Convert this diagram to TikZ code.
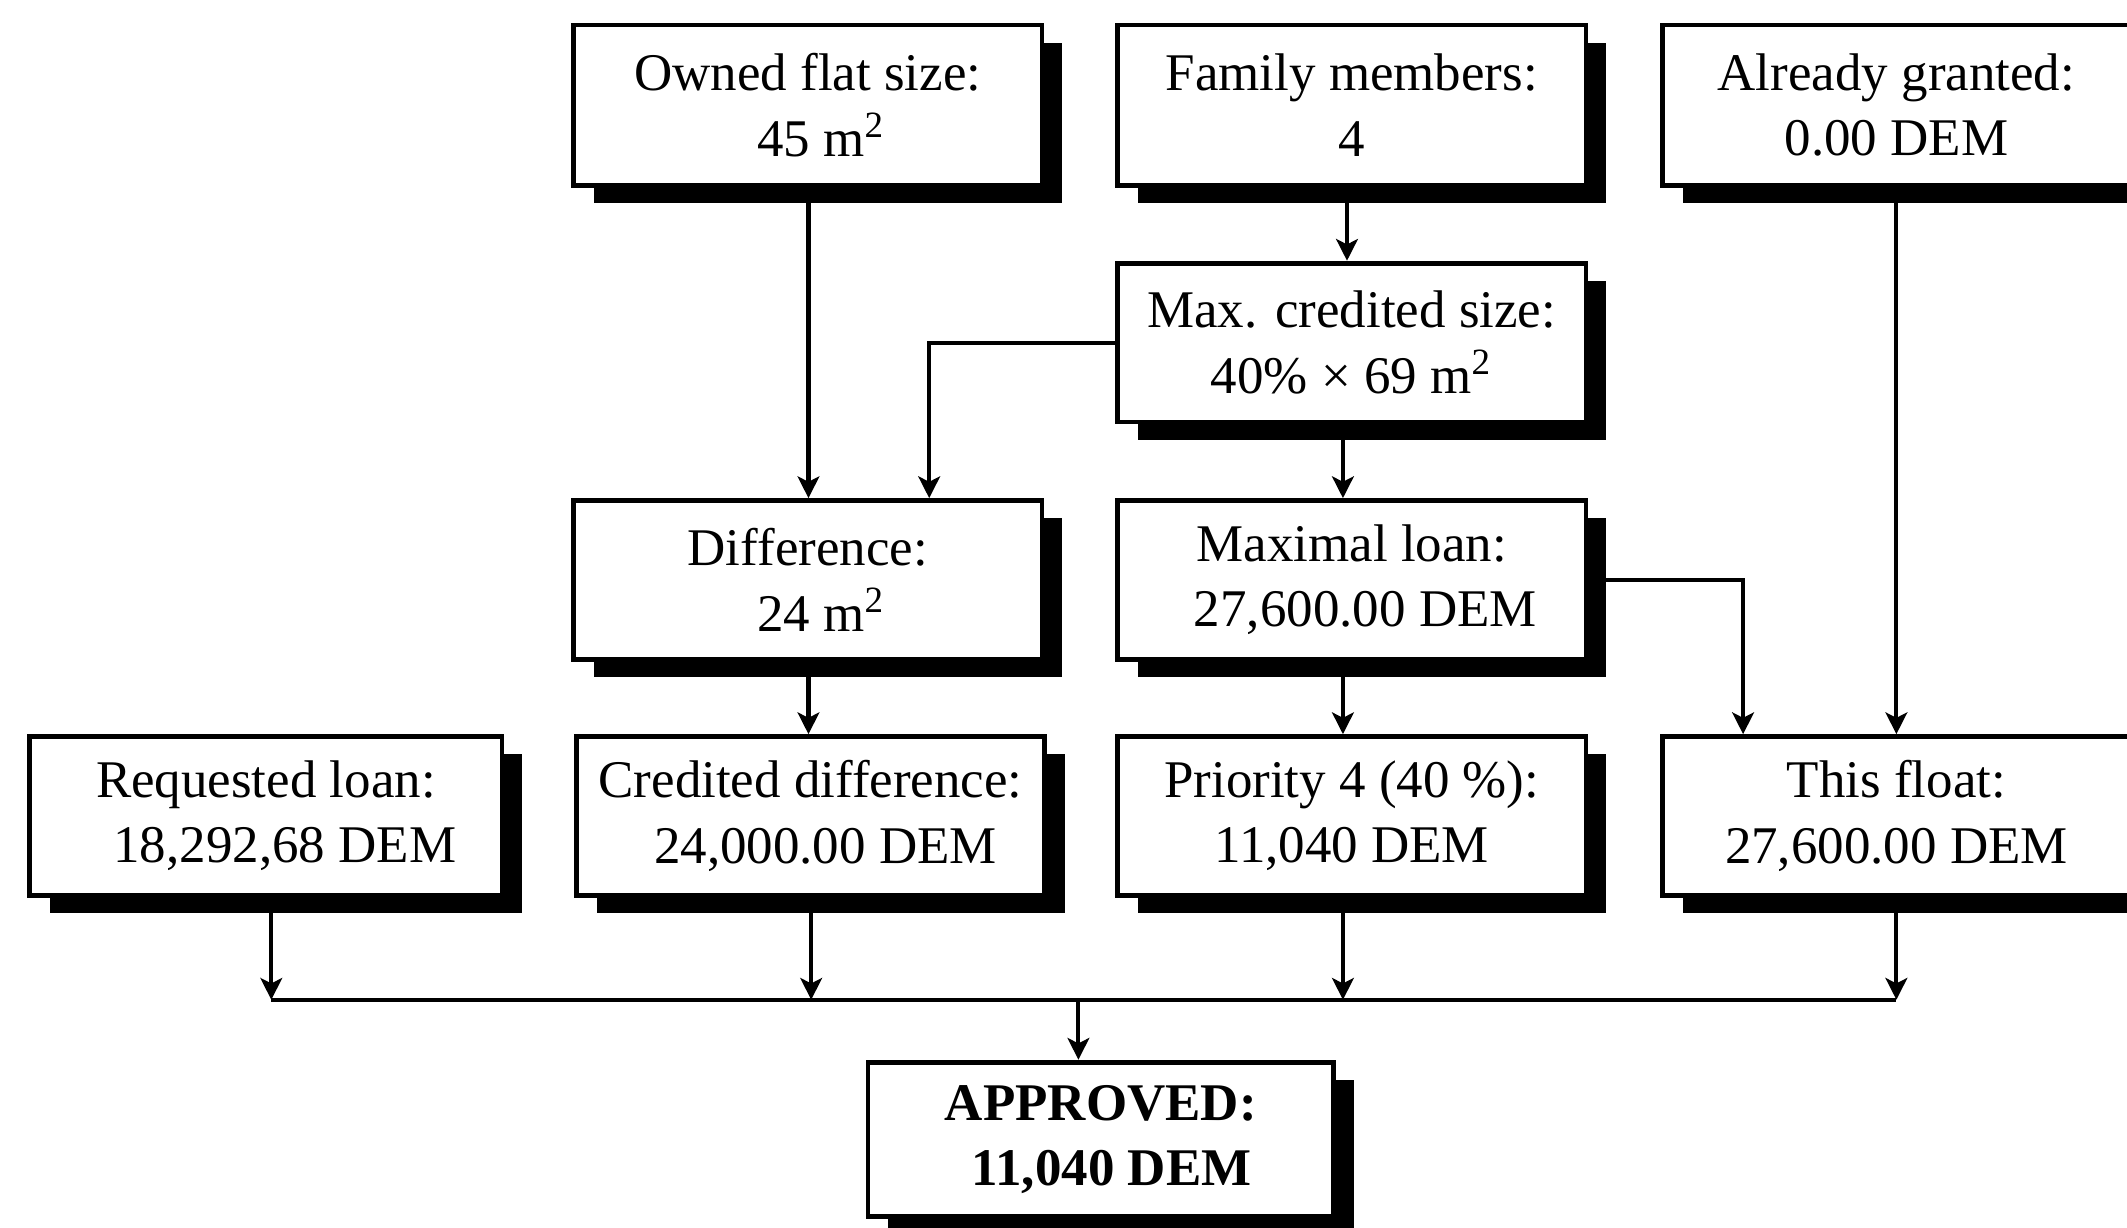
\documentclass[tikz,border=0pt]{standalone}
\usepackage{fontspec}
\setmainfont{Liberation Serif}
\usetikzlibrary{arrows.meta,shadows}
\newcommand{\lead}[1]{\hspace*{#1}}
\begin{document}
\begin{tikzpicture}[x=0.01cm,y=-0.01cm,
  box/.style={draw=black,line width=1pt,fill=white,align=center,inner sep=0pt,
    minimum width=3.45cm,minimum height=1.18cm,
    font=\fontsize{11.1}{13.7}\selectfont,
    drop shadow={shadow xshift=0.15cm,shadow yshift=-0.13cm,fill=black,opacity=1}},
  conn/.style={line width=0.85pt},
  arr/.style={conn,-{Stealth[length=0.16cm,width=0.16cm,inset=0.04cm]}}]
\useasboundingbox (0,0) rectangle (1568,905);
% nodes
\node[box] (owned) at (595.5,77.5) {Owned flat size:\\\lead{0.2cm}45 m\textsuperscript{2}};
\node[box] (family) at (996.5,77.5) {Family members:\\4};
\node[box] (already) at (1398,77.5) {Already granted:\\0.00 DEM};
\node[box,minimum height=1.17cm] (maxc) at (996.5,252.5) {Max. credited size:\\40\% × 69 m\textsuperscript{2}};
\node[box,minimum height=1.17cm] (diff) at (595.5,427.5) {Difference:\\\lead{0.2cm}24 m\textsuperscript{2}};
\node[box,minimum height=1.17cm] (maxl) at (996.5,427.5) {Maximal loan:\\\lead{0.2cm}27,600.00 DEM};
\node[box,minimum height=1.17cm,minimum width=3.48cm] (req) at (196,601.5) {Requested loan:\\\lead{0.28cm}18,292,68 DEM};
\node[box,minimum height=1.17cm] (cdiff) at (597.5,601.5) {Credited difference:\\\lead{0.22cm}24,000.00 DEM};
\node[box,minimum height=1.17cm] (prio) at (996.5,601.5) {Priority 4 (40 \%):\\11,040 DEM};
\node[box,minimum height=1.17cm] (float) at (1398,601.5) {This float:\\27,600.00 DEM};
\node[box,minimum height=1.14cm,minimum width=3.43cm,font=\fontsize{11.1}{13.7}\selectfont\bfseries] (appr) at (811.5,840) {APPROVED:\\\lead{0.16cm}11,040 DEM};
% helper coordinates
\coordinate (xa) at (596,0);
\coordinate (xb) at (993,0);
\coordinate (xc) at (990,0);
\coordinate (xd) at (685,0);
\coordinate (xe) at (1285,0);
\coordinate (xf) at (1398,0);
\coordinate (xg) at (200,0);
\coordinate (xh) at (598,0);
\coordinate (xi) at (795,0);
\coordinate (busl) at (200,737);
\coordinate (busr) at (1398,737);
% connectors
\draw[arr] (owned.south -| xa) -- (diff.north -| xa);
\draw[arr] (family.south -| xb) -- (maxc.north -| xb);
\draw[arr] (maxc.south -| xc) -- (maxl.north -| xc);
\draw[arr] (maxc.west) -| (diff.north -| xd);
\draw[arr] (maxl.east) -| (float.north -| xe);
\draw[arr] (already.south -| xf) -- (float.north -| xf);
\draw[arr] (diff.south -| xa) -- (cdiff.north -| xa);
\draw[arr] (maxl.south -| xc) -- (prio.north -| xc);
\draw[conn] (busl) -- (busr);
\draw[arr] (req.south -| xg) -- (busl -| xg);
\draw[arr] (cdiff.south -| xh) -- (busl -| xh);
\draw[arr] (prio.south -| xc) -- (busl -| xc);
\draw[arr] (float.south -| xf) -- (busl -| xf);
\draw[arr] (busl -| xi) -- (appr.north -| xi);
\end{tikzpicture}
\end{document}
